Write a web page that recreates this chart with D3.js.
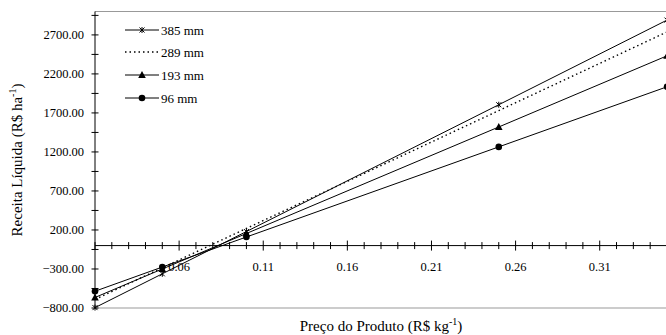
<!DOCTYPE html>
<html><head><meta charset="utf-8">
<script src="https://cdn.jsdelivr.net/npm/d3@7/dist/d3.min.js"></script>
<style>body{margin:0;background:#fff}svg{display:block}text{font-family:"Liberation Serif","Times New Roman",serif}</style>
</head><body><svg id="c" width="666" height="335"></svg>
<script>
const prices = [0.01, 0.05, 0.10, 0.25, 0.35];
const s385 = [-795, -362, 180, 1805, 2890];
const s289 = [-690, -285, 220, 1730, 2738];
const s193 = [-665, -300, 155, 1520, 2432];
const s96  = [-585, -275, 110, 1265, 2035];
const seriesNames = ["385 mm", "289 mm", "193 mm", "96 mm"];
const yTickLabels = [-800, -300, 200, 700, 1200, 1700, 2200, 2700];
const xTickLabels = [0.06, 0.11, 0.16, 0.21, 0.26, 0.31];

const svg = d3.select("#c");
const x = d3.scaleLinear().domain([0.01, 0.35]).range([95, 667]);
const y = d3.scaleLinear().domain([-800, 3000]).range([308, 11.5]);

// frame lines
svg.append("line").attr("x1",95).attr("x2",666).attr("y1",y(3000)).attr("y2",y(3000)).attr("stroke","#999");
svg.append("line").attr("x1",95).attr("x2",666).attr("y1",y(-800)).attr("y2",y(-800)).attr("stroke","#999");

// y axis
const yMinor = d3.range(-800, 3000, 250);
const ya = svg.append("g").attr("transform","translate(95,0)");
ya.append("line").attr("y1",y(3000)).attr("y2",y(-800)).attr("stroke","#000");
ya.selectAll("line.t").data(yMinor).join("line").attr("class","t")
  .attr("x1",-3.5).attr("x2",3.5).attr("y1",d=>y(d)).attr("y2",d=>y(d)).attr("stroke","#000");
ya.selectAll("text").data(yTickLabels).join("text")
  .attr("x",-11).attr("y",d=>y(d)).attr("dy","0.35em").attr("text-anchor","end")
  .attr("font-size",12.5).text(d=>d3.format(".2f")(d));

// x axis at y=0
const xMinor = d3.range(1, 36).map(i=>i/100);
const xa = svg.append("g").attr("transform",`translate(0,${y(0)})`);
xa.append("line").attr("x1",95).attr("x2",667).attr("stroke","#000");
xa.selectAll("line.t").data(xMinor).join("line").attr("class","t")
  .attr("x1",d=>x(d)).attr("x2",d=>x(d))
  .attr("y1",d=>xTickLabels.some(v=>Math.abs(v-d)<1e-6)?-5:-3.5)
  .attr("y2",d=>xTickLabels.some(v=>Math.abs(v-d)<1e-6)?5:3.5).attr("stroke","#000");
xa.selectAll("text").data(xTickLabels).join("text")
  .attr("x",d=>x(d)).attr("y",25).attr("text-anchor","middle")
  .attr("font-size",12.5).text(d=>d3.format(".2f")(d));

// lines
const all = [s385, s289, s193, s96];
const line = d3.line().x((d,i)=>x(prices[i])).y(d=>y(d));
all.forEach((s,k)=>{
  svg.append("path").attr("d",line(s)).attr("fill","none").attr("stroke","#000")
    .attr("stroke-width",k===1?1.4:1).attr("stroke-dasharray",k===1?"1.5,3":null);
});

function marker(g, kind, cx, cy){
  if(kind===0){
    g.append("path").attr("d",`M${cx-2.5},${cy-2.5}L${cx+2.5},${cy+2.5}M${cx-2.5},${cy+2.5}L${cx+2.5},${cy-2.5}M${cx},${cy-3}L${cx},${cy+3}`)
     .attr("stroke","#000").attr("fill","none");
  } else if(kind===2){
    g.append("path").attr("d",`M${cx},${cy-4}L${cx+3.8},${cy+3}L${cx-3.8},${cy+3}Z`).attr("fill","#000");
  } else if(kind===3){
    g.append("circle").attr("cx",cx).attr("cy",cy).attr("r",3.3).attr("fill","#000");
  }
}
[0,2,3].forEach(k=>{
  all[k].forEach((v,i)=>marker(svg,k,x(prices[i]),y(v)));
});

// legend
const lg = svg.append("g");
const ly = [30, 52, 75, 98];
seriesNames.forEach((n,k)=>{
  lg.append("line").attr("x1",125).attr("x2",159).attr("y1",ly[k]).attr("y2",ly[k])
    .attr("stroke","#000").attr("stroke-width",k===1?1.4:1).attr("stroke-dasharray",k===1?"1.5,3":null);
  marker(lg,k,142,ly[k]);
  lg.append("text").attr("x",161).attr("y",ly[k]).attr("dy","0.35em").attr("font-size",13).text(n);
});

// axis titles
const yt = svg.append("text").attr("transform","translate(22,160) rotate(-90)")
  .attr("text-anchor","middle").attr("font-size",15);
yt.append("tspan").text("Receita Líquida (R$ ha");
yt.append("tspan").attr("font-size",10).attr("dy",-6).text("-1");
yt.append("tspan").attr("dy",6).text(")");

const xt = svg.append("text").attr("x",381).attr("y",331).attr("text-anchor","middle").attr("font-size",15);
xt.append("tspan").text("Preço do Produto (R$ kg");
xt.append("tspan").attr("font-size",10).attr("dy",-6).text("-1");
xt.append("tspan").attr("dy",6).text(")");
</script></body></html>
